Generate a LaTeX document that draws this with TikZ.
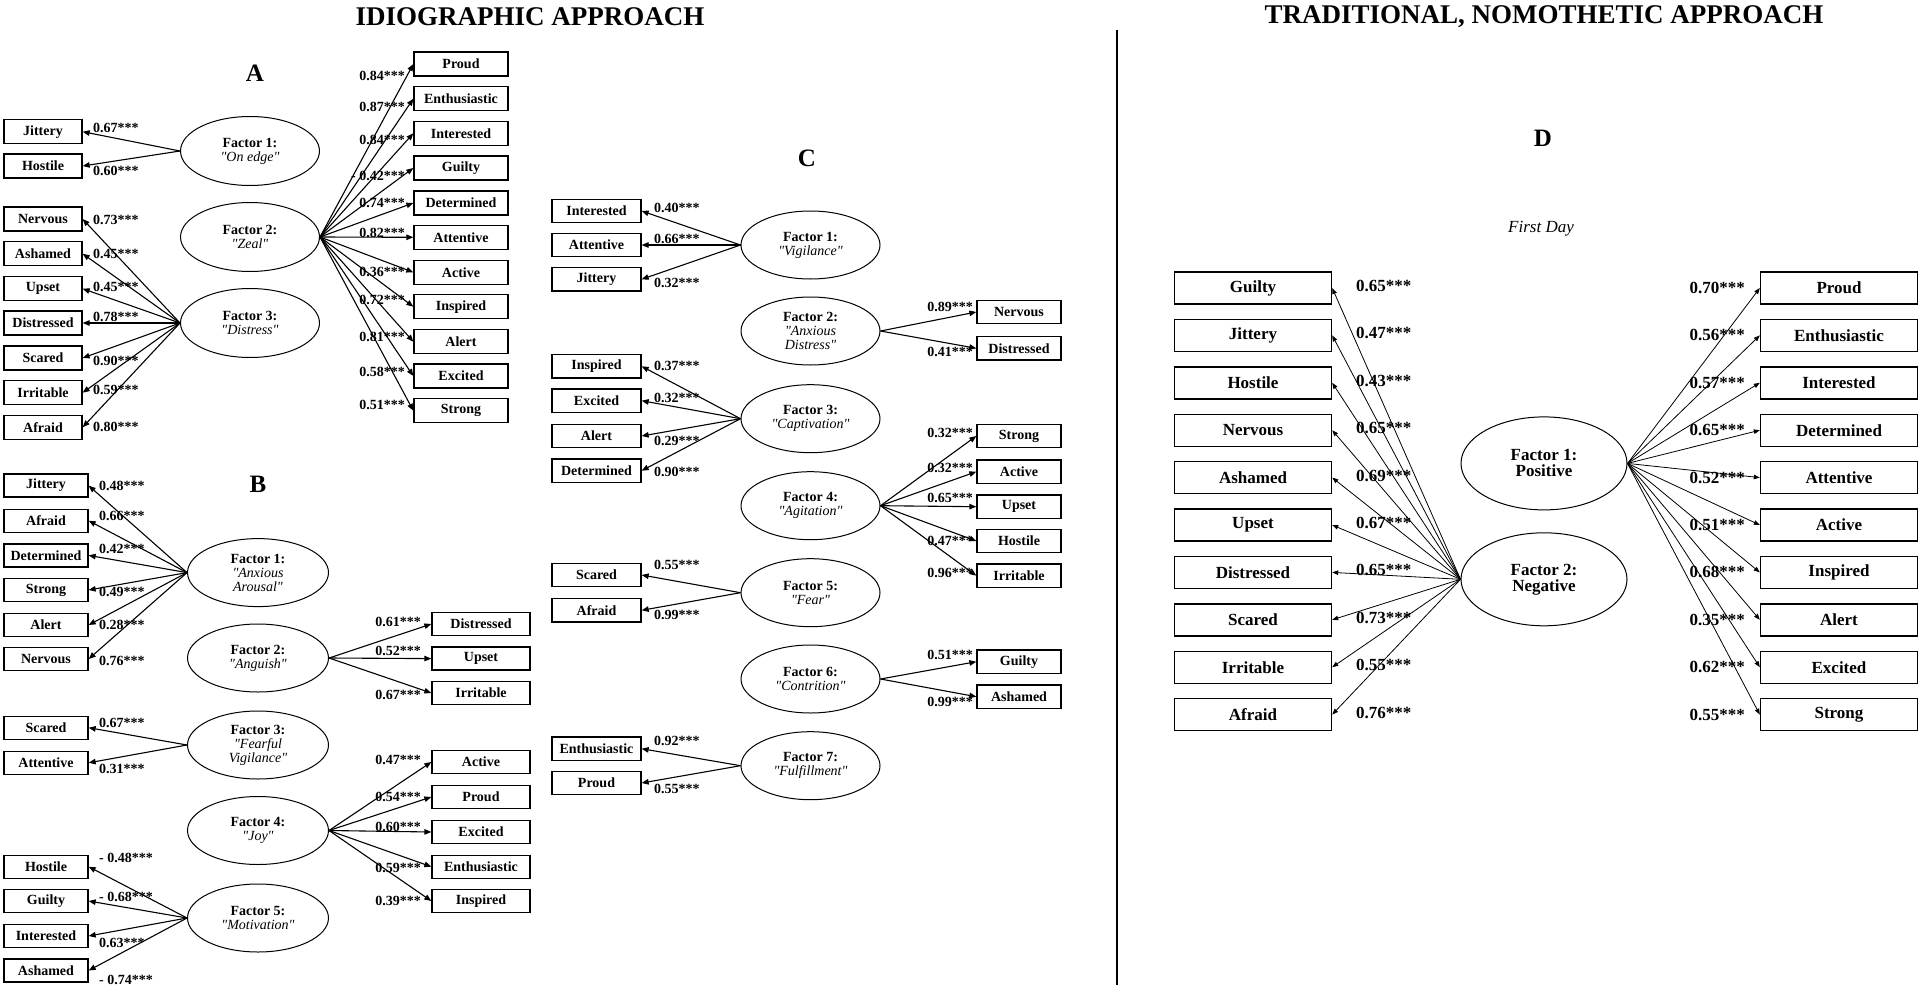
\documentclass[tikz,border=0pt]{standalone}
\usepackage{fontspec}
\setmainfont{Liberation Serif}[Ligatures=TeXOff]
\usetikzlibrary{shapes.geometric,arrows.meta}

\tikzset{
  item/.style={draw,line width=1.3pt,inner sep=0pt,minimum height=24pt,font=\fontsize{14}{14}\selectfont\bfseries},
  factor/.style={draw,ellipse,line width=1pt,inner sep=0pt,align=center,minimum width=139pt,minimum height=69pt,font=\fontsize{14}{14}\selectfont\itshape},
  coef/.style={inner sep=0pt,font=\fontsize{14}{14}\selectfont\bfseries},
  loading/.style={line width=1.1pt,-{Triangle[length=7pt,width=5.5pt]}},
  ditem/.style={item,line width=1.4pt,minimum width=157pt,minimum height=32pt,font=\fontsize{17}{17}\selectfont\bfseries},
  dfactor/.style={draw,ellipse,line width=1pt,inner sep=0pt,align=center,minimum width=166pt,minimum height=93pt,font=\fontsize{17}{16}\selectfont\bfseries},
  dcoef/.style={inner sep=0pt,font=\fontsize{17}{17}\selectfont\bfseries},
  dloading/.style={line width=0.8pt,-{Triangle[length=6pt,width=4.5pt]}},
  panel/.style={font=\fontsize{25}{25}\selectfont\bfseries},
  header/.style={font=\fontsize{27}{27}\selectfont\bfseries},
}

\begin{document}
\begin{tikzpicture}[x=1pt,y=-1pt]
\fill[white] (0,0) rectangle (1920,990);
\useasboundingbox (0,0) rectangle (1920,990);

\node[header] (idio) at (530,17) {IDIOGRAPHIC APPROACH};
\node[header] (nomo) at (1544,17) {TRADITIONAL, NOMOTHETIC APPROACH};
\draw[line width=2pt] (1117,30) -- (1117,985);

% A
\node[panel] (pA) at (255,73) {A};
\foreach \n/\txt/\y in {1/On edge/151,2/Zeal/237,3/Distress/323}
  \node[factor] (aF\n) at (250,\y) {{\upshape\bfseries Factor \n:}\\"\txt"};
\foreach \i/\fa/\txt/\y/\val/\dy in {1/1/Jittery/131.7/0.67***/-3.4,2/1/Hostile/166/0.60***/4.7,
    3/3/Nervous/219/0.73***/1,4/3/Ashamed/253.7/0.45***/0,5/3/Upset/288.7/0.45***/-1.7,
    6/3/Distressed/323/0.78***/-6.3,7/3/Scared/358/0.90***/3,8/3/Irritable/392.7/0.59***/-2.7,
    9/3/Afraid/427.3/0.80***/0}{
  \node[item,minimum width=78pt] (aL\i) at (43,\y) {\txt};
  \node[coef,anchor=west] (aLc\i) at (93,{\y+(\dy)}) {\val};
  \draw[loading] (aF\fa.west) -- (aL\i.east);
}
\foreach \i/\txt/\y/\val/\dy in {1/Proud/64/0.84***/11.7,2/Enthusiastic/98.7/0.87***/8,
    3/Interested/133.3/0.84***/6.7,4/Guilty/168/- 0.42***/8,5/Determined/203/0.74***/0,
    6/Attentive/237.3/0.82***/-4.6,7/Active/272.3/0.36***/0,8/Inspired/306.7/0.72***/-6.7,
    9/Alert/341.7/0.81***/-5,10/Excited/376/0.58***/-4.3,11/Strong/410.7/0.51***/-5.7}{
  \node[item,minimum width=94pt] (aR\i) at (461,\y) {\txt};
  \node[coef,anchor=east] (aRc\i) at (405,{\y+(\dy)}) {\val};
  \draw[loading] (aF2.east) -- (aR\i.west);
}

% B
\node[panel] (pB) at (258,484) {B};
\foreach \n/\txt/\y in {1/Anxious\\Arousal/572.6,2/Anguish/658,3/Fearful\\Vigilance/745,4/Joy/830.5,5/Motivation/918}
  \node[factor,minimum width=141pt,minimum height=68pt] (bF\n) at (258,\y) {{\upshape\bfseries Factor \n:}\\"\txt"};
\foreach \i/\fa/\txt/\y/\val/\dy in {1/1/Jittery/485.6/0.48***/0,2/1/Afraid/520.7/0.66***/-4.7,
    3/1/Determined/555.4/0.42***/-6,4/1/Strong/590/0.49***/1.6,5/1/Alert/625/0.28***/0,
    6/1/Nervous/659/0.76***/2,7/3/Scared/727.7/0.67***/-5,8/3/Attentive/762.8/0.31***/6,
    9/5/Hostile/866.7/- 0.48***/-8.7,10/5/Guilty/901/- 0.68***/-4,11/5/Interested/936/0.63***/6.5,
    12/5/Ashamed/970.5/- 0.74***/9.5}{
  \node[item,minimum width=84pt,minimum height=23pt] (bL\i) at (46,\y) {\txt};
  \node[coef,anchor=west] (bLc\i) at (99,{\y+(\dy)}) {\val};
  \draw[loading] (bF\fa.west) -- (bL\i.east);
}
\foreach \i/\fa/\txt/\y/\val/\dy in {1/2/Distressed/624/0.61***/-2,2/2/Upset/658.6/0.52***/-8,
    3/2/Irritable/693/0.67***/2,4/4/Active/762/0.47***/-2,5/4/Proud/797/0.54***/0,
    6/4/Excited/832/0.60***/-5,7/4/Enthusiastic/866.7/0.59***/1,8/4/Inspired/901/0.39***/0}{
  \node[item,minimum width=98pt,minimum height=23pt] (bR\i) at (481,\y) {\txt};
  \node[coef,anchor=east] (bRc\i) at (421,{\y+(\dy)}) {\val};
  \draw[loading] (bF\fa.east) -- (bR\i.west);
}

% C
\node[panel] (pC) at (807,158) {C};
\foreach \n/\txt/\y in {1/Vigilance/245,2/Anxious\\Distress/331,3/Captivation/418.7,4/Agitation/505.7,
    5/Fear/592.7,6/Contrition/679,7/Fulfillment/765.7}
  \node[factor,minimum height=68pt] (cF\n) at (810.5,\y) {{\upshape\bfseries Factor \n:}\\"\txt"};
\foreach \i/\fa/\txt/\y/\val/\dy in {1/1/Interested/211/0.40***/-3,2/1/Attentive/245/0.66***/-6,
    3/1/Jittery/279.3/0.32***/4,4/3/Inspired/366.3/0.37***/0,5/3/Excited/400.7/0.32***/-3,
    6/3/Alert/436/0.29***/5,7/3/Determined/470.7/0.90***/1,8/5/Scared/575/0.55***/-10,
    9/5/Afraid/610.3/0.99***/4.7,10/7/Enthusiastic/748.7/0.92***/-7.7,11/7/Proud/783/0.55***/6.3}{
  \node[item,minimum width=89pt,minimum height=23.5pt] (cL\i) at (596.5,\y) {\txt};
  \node[coef,anchor=west] (cLc\i) at (654,{\y+(\dy)}) {\val};
  \draw[loading] (cF\fa.west) -- (cL\i.east);
}
\foreach \i/\fa/\txt/\y/\val/\dy in {1/2/Nervous/312/0.89***/-4.7,2/2/Distressed/348.3/0.41***/3.3,
    3/4/Strong/436/0.32***/-3.3,4/4/Active/471.7/0.32***/-3.3,5/4/Upset/506.7/0.65***/-8.3,
    6/4/Hostile/541/0.47***/0,7/4/Irritable/575.7/0.96***/-2.3,8/6/Guilty/661.7/0.51***/-6.7,
    9/6/Ashamed/696.7/0.99***/5.7}{
  \node[item,minimum width=84pt,minimum height=23.5pt] (cR\i) at (1019,\y) {\txt};
  \node[coef,anchor=east] (cRc\i) at (973,{\y+(\dy)}) {\val};
  \draw[loading] (cF\fa.east) -- (cR\i.west);
}

% D
\node[panel] (pD) at (1543,138) {D};
\node[font=\fontsize{17}{17}\selectfont\itshape] (day) at (1541,229) {First Day};
\node[dfactor] (dF1) at (1544,463.4) {Factor 1:\\Positive};
\node[dfactor] (dF2) at (1544,579.3) {Factor 2:\\Negative};
\foreach \txt/\val [count=\i] in {Guilty/0.65***,Jittery/0.47***,Hostile/0.43***,Nervous/0.65***,
    Ashamed/0.69***,Upset/0.67***,Distressed/0.65***,Scared/0.73***,Irritable/0.55***,Afraid/0.76***}{
  \pgfmathsetmacro\y{288+47.4*(\i-1)}
  \node[ditem] (dL\i) at (1253,\y) {\txt};
  \node[dcoef,anchor=west] (dLc\i) at (1356,\y-2) {\val};
  \draw[dloading] (dF2.west) -- (dL\i.east);
}
\foreach \txt/\val [count=\i] in {Proud/0.70***,Enthusiastic/0.56***,Interested/0.57***,Determined/0.65***,
    Attentive/0.52***,Active/0.51***,Inspired/0.68***,Alert/0.35***,Excited/0.62***,Strong/0.55***}{
  \pgfmathsetmacro\y{288+47.4*(\i-1)}
  \node[ditem] (dR\i) at (1839,\y) {\txt};
  \node[dcoef,anchor=east] (dRc\i) at (1745,\y) {\val};
  \draw[dloading] (dF1.east) -- (dR\i.west);
}
\end{tikzpicture}
\end{document}
